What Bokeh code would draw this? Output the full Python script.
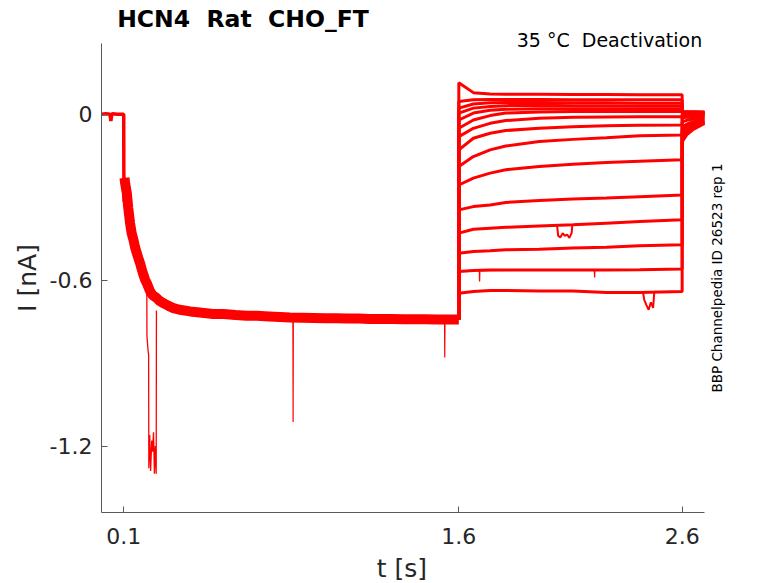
from math import pi
from bokeh.plotting import figure
from bokeh.models import FixedTicker, Range1d, Label
from bokeh.embed import file_html
from bokeh.resources import INLINE

# ---------------- data ----------------
x_ticks = [0.1, 1.6, 2.6]
x_tick_labels = ["0.1", "1.6", "2.6"]
y_ticks = [0.0, -0.6, -1.2]
y_tick_labels = ["0", "-0.6", "-1.2"]
x_axis_bounds = (0.0, 2.7)
y_axis_bounds = (-1.44, 0.2566)

# activation phase (common to all sweeps), t in s, I in nA
act_t = [0.0, 0.02, 0.038, 0.042, 0.046, 0.05, 0.07, 0.0995, 0.1, 0.1015, 0.103, 0.106,
         0.1136, 0.12, 0.128, 0.135, 0.143, 0.15, 0.158, 0.165, 0.173, 0.18, 0.188, 0.195,
         0.203, 0.21, 0.218, 0.23, 0.248, 0.26, 0.277, 0.3, 0.322, 0.35, 0.397, 0.45, 0.5,
         0.546, 0.6, 0.65, 0.695, 0.75, 0.8, 0.844, 0.9, 0.95, 1.0, 1.05, 1.1, 1.15, 1.2,
         1.25, 1.3, 1.35, 1.4, 1.45, 1.5, 1.55, 1.6]
act_i = [0.0, 0.002, 0.0, -0.025, 0.0, 0.002, 0.0, 0.0, -0.2, -0.316, -0.23, -0.25,
         -0.286, -0.34, -0.394, -0.43, -0.454, -0.48, -0.502, -0.52, -0.539, -0.56, -0.581, -0.598,
         -0.611, -0.625, -0.641, -0.655, -0.665, -0.675, -0.683, -0.693, -0.701, -0.707, -0.713, -0.718, -0.722,
         -0.722, -0.726, -0.729, -0.729, -0.731, -0.733, -0.735, -0.736, -0.737, -0.738, -0.738, -0.739, -0.739, -0.740,
         -0.740, -0.740, -0.741, -0.741, -0.741, -0.742, -0.742, -0.742]

# artefacts during activation
glitch_t = [0.203, 0.2035, 0.208, 0.211, 0.212, 0.216, 0.22, 0.225, 0.229, 0.233, 0.237, 0.241, 0.245, 0.246]
glitch_i = [-0.65, -0.80, -0.85, -0.87, -1.28, -1.16, -1.29, -1.18, -1.22, -1.15, -1.30, -1.20, -1.30, -0.71]
spike1_t = [0.857, 0.858, 0.859]
spike1_i = [-0.735, -1.113, -0.735]
spike2_t = [1.536, 1.537, 1.538]
spike2_i = [-0.745, -0.88, -0.745]

# deactivation steps (1.6 - 2.6 s)
deact_t = [1.6, 1.665, 1.74, 1.81, 1.96, 2.11, 2.26, 2.41, 2.6]
sweep_01 = [0.114, 0.078, 0.073, 0.072, 0.072, 0.071, 0.071, 0.070, 0.070]
sweep_02 = [0.046, 0.052, 0.053, 0.053, 0.053, 0.052, 0.052, 0.052, 0.052]
sweep_03 = [0.022, 0.037, 0.041, 0.042, 0.042, 0.041, 0.041, 0.040, 0.040]
sweep_04 = [0.004, 0.022, 0.028, 0.031, 0.032, 0.031, 0.031, 0.030, 0.030]
sweep_05 = [-0.021, 0.004, 0.014, 0.018, 0.020, 0.020, 0.020, 0.020, 0.020]
sweep_06 = [-0.051, -0.021, -0.005, 0.004, 0.008, 0.010, 0.010, 0.010, 0.010]
sweep_07 = [-0.081, -0.051, -0.033, -0.023, -0.015, -0.011, -0.010, -0.009, -0.009]
sweep_08 = [-0.129, -0.087, -0.069, -0.059, -0.051, -0.045, -0.042, -0.040, -0.039]
sweep_09 = [-0.189, -0.153, -0.129, -0.115, -0.099, -0.091, -0.085, -0.078, -0.075]
sweep_10 = [-0.256, -0.231, -0.213, -0.201, -0.189, -0.181, -0.175, -0.170, -0.165]
sweep_11 = [-0.346, -0.334, -0.328, -0.319, -0.312, -0.307, -0.303, -0.298, -0.292]
sweep_12 = [-0.430, -0.416, -0.412, -0.409, -0.404, -0.400, -0.394, -0.388, -0.382]
sweep_13 = [-0.503, -0.496, -0.494, -0.490, -0.488, -0.484, -0.481, -0.476, -0.472]
sweep_14 = [-0.569, -0.565, -0.563, -0.563, -0.563, -0.563, -0.563, -0.562, -0.560]
sweep_15 = [-0.647, -0.641, -0.637, -0.637, -0.639, -0.639, -0.645, -0.645, -0.641]

# tail after 2.6 s
tail_t = [2.6, 2.62, 2.65, 2.7]
tail_01 = [0.009, 0.009, 0.009, 0.008]
tail_02 = [0.009, 0.008, 0.008, 0.007]
tail_03 = [0.008, 0.007, 0.006, 0.005]
tail_04 = [0.007, 0.006, 0.005, 0.004]
tail_05 = [0.005, 0.004, 0.003, 0.002]
tail_06 = [0.003, 0.002, 0.001, 0.000]
tail_07 = [0.000, -0.001, -0.002, -0.003]
tail_08 = [-0.005, -0.005, -0.005, -0.005]
tail_09 = [-0.013, -0.011, -0.010, -0.008]
tail_10 = [-0.028, -0.022, -0.017, -0.012]
tail_11 = [-0.046, -0.036, -0.027, -0.017]
tail_12 = [-0.060, -0.046, -0.035, -0.021]
tail_13 = [-0.075, -0.057, -0.042, -0.025]
tail_14 = [-0.086, -0.065, -0.048, -0.029]
tail_15 = [-0.100, -0.075, -0.055, -0.033]

# artefacts during deactivation
glitch12_t = [2.04, 2.045, 2.055, 2.065, 2.075, 2.085, 2.095, 2.105, 2.108]
glitch12_i = [-0.403, -0.44, -0.445, -0.43, -0.44, -0.435, -0.447, -0.43, -0.402]
dip15_t = [2.425, 2.43, 2.44, 2.45, 2.46, 2.47, 2.475]
dip15_i = [-0.645, -0.67, -0.69, -0.707, -0.68, -0.70, -0.646]
spike14_t = [1.692, 1.693, 1.694, 2.207, 2.208, 2.209]
spike14_i = [-0.565, -0.605, -0.565, -0.563, -0.59, -0.563]

sweeps = [sweep_01, sweep_02, sweep_03, sweep_04, sweep_05, sweep_06, sweep_07, sweep_08,
          sweep_09, sweep_10, sweep_11, sweep_12, sweep_13, sweep_14, sweep_15]
tails = [tail_01, tail_02, tail_03, tail_04, tail_05, tail_06, tail_07, tail_08,
         tail_09, tail_10, tail_11, tail_12, tail_13, tail_14, tail_15]

NB = "\u00a0"
title_text = "HCN4" + NB + NB + "Rat" + NB + NB + "CHO_FT"
subtitle_text = "35 \u00b0C" + NB + NB + "Deactivation"
side_text = "BBP Channelpedia ID 26523 rep 1"
x_label = "t [s]"
y_label = "I [nA]"

# ---------------- figure ----------------
RED = "#ff0000"
FONT = "DejaVu Sans"

# the plot frame fills the whole canvas; axes sit at fixed data locations
p = figure(width=778, height=583, output_backend="svg", toolbar_location=None, title=None,
           x_range=Range1d(-0.4522, 3.0314), y_range=Range1d(-1.6967, 0.4111),
           min_border_left=0, min_border_right=0, min_border_top=0, min_border_bottom=0,
           background_fill_color="white", border_fill_color="white")
p.outline_line_color = None
p.grid.visible = False

p.line(act_t[:11], act_i[:11], color=RED, line_width=3.5)
p.line(act_t[10:], act_i[10:], color=RED, line_width=10)
p.line(glitch_t, glitch_i, color=RED, line_width=1.3)
p.line(spike1_t, spike1_i, color=RED, line_width=1.2)
p.line(spike2_t, spike2_i, color=RED, line_width=1.2)

for s, tl in zip(sweeps, tails):
    xs = [act_t[-1]] + deact_t + tail_t
    ys = [act_i[-1]] + s + tl
    p.line(xs, ys, color=RED, line_width=3)

p.line(glitch12_t, glitch12_i, color=RED, line_width=2)
p.line(dip15_t, dip15_i, color=RED, line_width=2)
p.line(spike14_t, spike14_i, color=RED, line_width=1.3)

# axes
p.xaxis.ticker = FixedTicker(ticks=x_ticks)
p.xaxis.major_label_overrides = {v: s for v, s in zip(x_ticks, x_tick_labels)}
p.xaxis.bounds = x_axis_bounds
p.xaxis.fixed_location = y_axis_bounds[0]
p.yaxis.ticker = FixedTicker(ticks=y_ticks)
p.yaxis.major_label_overrides = {v: s for v, s in zip(y_ticks, y_tick_labels)}
p.yaxis.bounds = y_axis_bounds
p.yaxis.fixed_location = x_axis_bounds[0]
for ax in (p.xaxis[0], p.yaxis[0]):
    ax.axis_line_color = "#5a5a5a"
    ax.axis_line_width = 1
    ax.major_tick_line_color = "#5a5a5a"
    ax.major_tick_in = 6
    ax.major_tick_out = 0
    ax.minor_tick_in = 0
    ax.minor_tick_out = 0
    ax.major_label_text_font = FONT
    ax.major_label_text_font_size = "22px"
    ax.major_label_text_color = "#262626"
p.yaxis.major_label_standoff = 9
p.xaxis.major_label_standoff = 16

# texts
p.add_layout(Label(x=1.3455, y=-1.6425, text=x_label, text_font=FONT, text_font_size="25px",
                   text_color="#262626", text_align="center", text_baseline="alphabetic"))
p.add_layout(Label(x=-0.3291, y=-0.5922, text=y_label, text_font=FONT, text_font_size="25px",
                   text_color="#262626", text_align="center", text_baseline="alphabetic",
                   angle=pi / 2))
p.add_layout(Label(x=0.0703, y=0.3435, text=title_text, text_font=FONT, text_font_size="23.5px",
                   text_font_style="bold", text_color="#000000", text_align="left",
                   text_baseline="alphabetic"))
p.add_layout(Label(x=2.6898, y=0.2693, text=subtitle_text, text_font=FONT, text_font_size="19px",
                   text_color="#000000", text_align="right", text_baseline="alphabetic"))
p.add_layout(Label(x=2.757, y=-0.5922, text=side_text, text_font=FONT, text_font_size="13.5px",
                   text_color="#000000", text_align="center", text_baseline="alphabetic",
                   angle=pi / 2))

open("out.html", "w").write(file_html(p, INLINE))
